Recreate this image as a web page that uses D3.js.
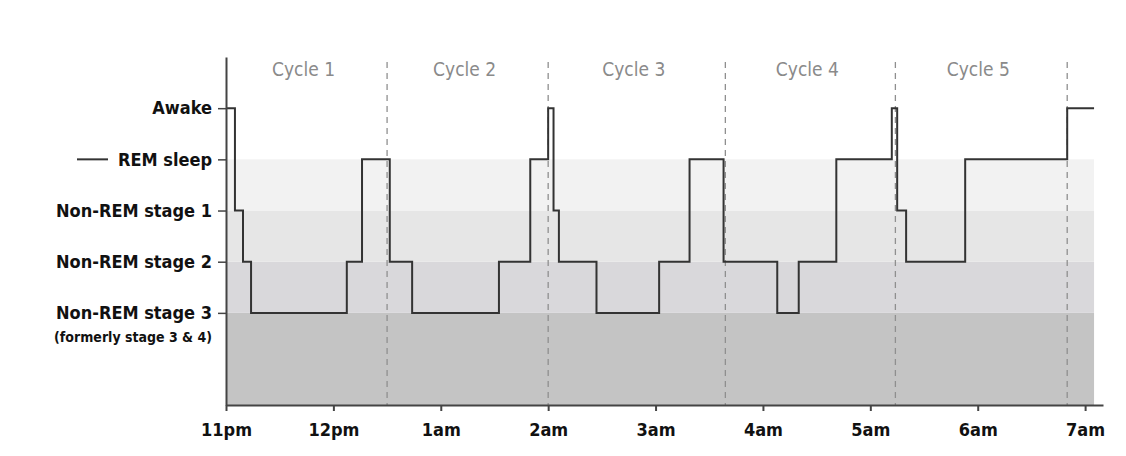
<!DOCTYPE html>
<html>
<head>
<meta charset="utf-8">
<script src="https://cdn.jsdelivr.net/npm/d3@7"></script>
<style>
  body { margin: 0; background: #fff; }
  svg text { font-family: "Liberation Sans Narrow", "DejaVu Sans Condensed", "Arial Narrow", sans-serif; }
</style>
</head>
<body>
<svg id="chart" width="1126" height="456"></svg>
<script>
// sleep stages, bottom to top
var stageNames = ['Non-REM stage 3', 'Non-REM stage 2', 'Non-REM stage 1', 'REM sleep', 'Awake'];

// hypnogram: minutes after 11pm where each step begins, and the stage index for it
var stepStart = [0, 5, 9.5, 14, 67.5, 76, 91.5, 104, 152.5, 170, 180, 183, 186, 207, 242, 259, 278, 308, 320, 341, 372, 375, 380, 413, 470];
var stepStage = [4, 2, 1, 0, 1, 3, 1, 0, 1, 3, 4, 2, 1, 0, 1, 3, 1, 0, 1, 3, 4, 2, 1, 3, 4];
var endMinute = 485;

var hourLabels = ['11pm', '12pm', '1am', '2am', '3am', '4am', '5am', '6am', '7am'];
var hourMinutes = [0, 60, 120, 180, 240, 300, 360, 420, 480];

var cycleNames = ['Cycle 1', 'Cycle 2', 'Cycle 3', 'Cycle 4', 'Cycle 5'];
var cycleEnd = [90, 180, 279, 374, 470];

var bandColors = ['#c4c4c4', '#d9d8db', '#e6e6e6', '#f2f2f2'];

var svg = d3.select('#chart');

var x = d3.scaleLinear().domain([0, 490]).range([226, 1103]);
var y = d3.scaleLinear().domain([-1.8, 5]).range([405, 57]);

// background bands under each stage line
var bandBounds = [[-1.8, 0], [0, 1], [1, 2], [2, 3]];
svg.append('g').selectAll('rect')
  .data(bandBounds)
  .join('rect')
  .attr('x', x(0))
  .attr('width', x(endMinute) - x(0))
  .attr('y', d => y(d[1]))
  .attr('height', d => y(d[0]) - y(d[1]))
  .attr('fill', (d, i) => bandColors[i]);

// cycle dividers
svg.append('g').selectAll('line')
  .data(cycleEnd)
  .join('line')
  .attr('x1', d => x(d)).attr('x2', d => x(d))
  .attr('y1', 62).attr('y2', y(-1.8))
  .attr('stroke', '#8f8f8f')
  .attr('stroke-width', 1.3)
  .attr('stroke-dasharray', '6,5');

svg.append('g').selectAll('text')
  .data(cycleNames)
  .join('text')
  .attr('x', (d, i) => x(((i == 0 ? 0 : cycleEnd[i - 1]) + cycleEnd[i]) / 2) - 3)
  .attr('y', 76)
  .attr('text-anchor', 'middle')
  .attr('fill', '#8a8a8a')
  .style('font-size', '19px')
  .text(d => d);

// hypnogram line
var steps = stepStart.map((s, i) => ({t: s, stage: stepStage[i]}));
steps.push({t: endMinute, stage: stepStage[stepStage.length - 1]});

svg.append('path')
  .datum(steps)
  .attr('fill', 'none')
  .attr('stroke', '#333')
  .attr('stroke-width', 2)
  .attr('d', d3.line().curve(d3.curveStepAfter).x(d => x(d.t)).y(d => y(d.stage)));

// axes
var xAxis = d3.axisBottom(x).tickValues(hourMinutes).tickSize(6).tickSizeOuter(0)
  .tickFormat((d, i) => hourLabels[i]);
var gx = svg.append('g')
  .attr('transform', 'translate(0,' + y(-1.8) + ')')
  .call(xAxis);
gx.select('.domain').attr('stroke', '#444').attr('stroke-width', 2);
gx.selectAll('.tick line').attr('stroke', '#444').attr('stroke-width', 2);
gx.selectAll('.tick text')
  .attr('fill', '#111')
  .attr('dy', '1.2em')
  .style('font-size', '18px')
  .style('font-weight', 'bold');

var yAxis = d3.axisLeft(y).tickValues([0, 1, 2, 3, 4]).tickSize(8).tickSizeOuter(0)
  .tickFormat(d => stageNames[d]);
var gy = svg.append('g')
  .attr('transform', 'translate(' + x(0) + ',0)')
  .call(yAxis);
gy.select('.domain').attr('stroke', '#444').attr('stroke-width', 2);
gy.selectAll('.tick line').attr('stroke', '#444').attr('stroke-width', 1.5);
gy.selectAll('.tick text')
  .attr('fill', '#111')
  .attr('x', -14)
  .style('font-size', '18px')
  .style('font-weight', 'bold');

gy.append('text')
  .attr('x', -14)
  .attr('y', y(0) + 29)
  .attr('text-anchor', 'end')
  .attr('fill', '#111')
  .style('font-size', '14px')
  .style('font-weight', 'bold')
  .text('(formerly stage 3 & 4)');

// short dash in front of the REM label
svg.append('line')
  .attr('x1', 77).attr('x2', 108)
  .attr('y1', y(3)).attr('y2', y(3))
  .attr('stroke', '#333')
  .attr('stroke-width', 2);
</script>
</body>
</html>
